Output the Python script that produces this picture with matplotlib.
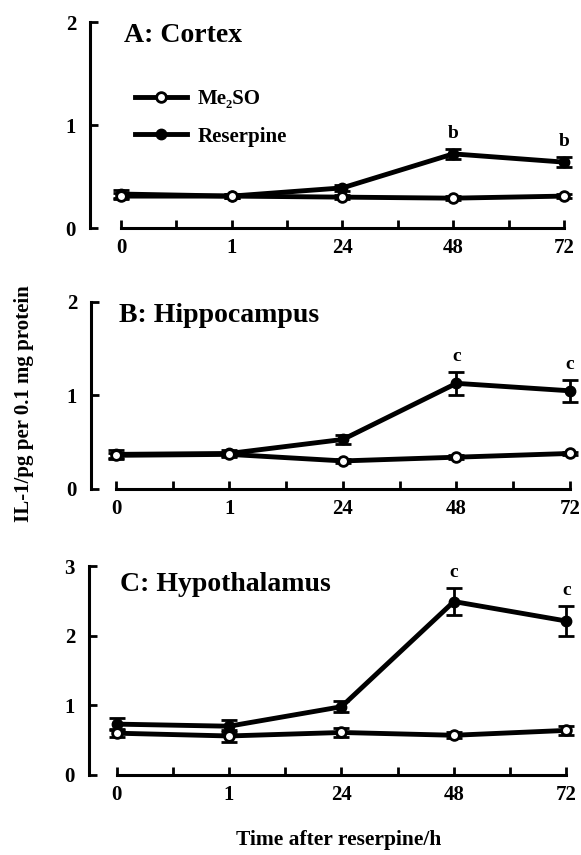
import numpy as np
import matplotlib
matplotlib.use("Agg")
import matplotlib.pyplot as plt

plt.rcParams['font.family'] = ['Liberation Serif', 'DejaVu Serif']
plt.rcParams['font.weight'] = 'bold'

times = ["0", "1", "24", "48", "72"]
x = np.arange(len(times))

# panel A: cortex
cortex_dmso = [0.31, 0.31, 0.30, 0.29, 0.31]
cortex_dmso_err = [0.03, 0.02, 0.02, 0.02, 0.02]
cortex_res = [0.33, 0.31, 0.39, 0.72, 0.64]
cortex_res_err = [0.04, 0.02, 0.03, 0.05, 0.05]
cortex_sig = ["", "", "", "b", "b"]

# panel B: hippocampus
hippo_dmso = [0.36, 0.37, 0.30, 0.34, 0.38]
hippo_dmso_err = [0.03, 0.02, 0.02, 0.02, 0.02]
hippo_res = [0.37, 0.38, 0.53, 1.13, 1.05]
hippo_res_err = [0.05, 0.04, 0.05, 0.125, 0.115]
hippo_sig = ["", "", "", "c", "c"]

# panel C: hypothalamus
hypo_dmso = [0.60, 0.56, 0.61, 0.57, 0.64]
hypo_dmso_err = [0.06, 0.08, 0.07, 0.04, 0.06]
hypo_res = [0.73, 0.70, 0.98, 2.49, 2.21]
hypo_res_err = [0.09, 0.09, 0.08, 0.20, 0.22]
hypo_sig = ["", "", "", "c", "c"]

panels = [
    ("A: Cortex", cortex_dmso, cortex_dmso_err, cortex_res, cortex_res_err, cortex_sig, 2),
    ("B: Hippocampus", hippo_dmso, hippo_dmso_err, hippo_res, hippo_res_err, hippo_sig, 2),
    ("C: Hypothalamus", hypo_dmso, hypo_dmso_err, hypo_res, hypo_res_err, hypo_sig, 3),
]
# axes rectangles (figure fractions) and x-limits
rects = [
    [0.1549, 0.7333, 0.8348, 0.2409],
    [0.1566, 0.4281, 0.8400, 0.2187],
    [0.1532, 0.0936, 0.8410, 0.2444],
]
xlims = [(-0.28, 4.1), (-0.22, 4.08), (-0.245, 4.1)]
title_y = [0.935, 0.93, 0.91]

fig = plt.figure(figsize=(5.81, 8.55), dpi=100)

for i, (title, dm, dme, rs, rse, sig, ymax) in enumerate(panels):
    ax = fig.add_axes(rects[i])
    eb_r = ax.errorbar(x, rs, yerr=rse, color="black", lw=3.5, marker="o", ms=7.5,
                       mfc="black", mec="black", capsize=5.5, elinewidth=2, capthick=2,
                       zorder=3)
    eb_d = ax.errorbar(x, dm, yerr=dme, color="black", lw=3.5, marker="o", ms=7,
                       mfc="white", mec="black", mew=2, capsize=5.5, elinewidth=2,
                       capthick=2, zorder=4)
    # significance letters just above the error bars
    for xi, yi, e, s in zip(x, rs, rse, sig):
        if s:
            ax.annotate(s, (xi, yi + e), xytext=(0, 5), textcoords="offset points",
                        ha="center", va="bottom", fontsize=14, fontweight="bold")
    ax.text(0.03, title_y[i] * ymax, title, ha="left", va="center", fontsize=20,
            fontweight="bold")

    ax.set_xlim(*xlims[i])
    ax.set_ylim(0, ymax)
    ax.set_xticks(x)
    ax.set_xticklabels(times)
    ax.set_xticks(x[:-1] + 0.5, minor=True)
    ax.set_yticks(np.arange(0, ymax + 1))
    for side in ["top", "right"]:
        ax.spines[side].set_visible(False)
    ax.spines["bottom"].set_bounds(0, 4)
    ax.spines["bottom"].set_linewidth(2.2)
    ax.spines["left"].set_linewidth(2.2)
    ax.tick_params(axis="x", which="major", direction="in", length=6, width=2,
                   labelsize=15, pad=7)
    ax.tick_params(axis="x", which="minor", direction="in", length=6, width=2)
    ax.tick_params(axis="y", direction="in", length=6, width=2, labelsize=15, pad=10)
    for lab in ax.get_xticklabels() + ax.get_yticklabels():
        lab.set_fontweight("bold")

    if i == 0:
        ax.legend([eb_d[0], eb_r[0]], ["Me\u2082SO", "Reserpine"], loc="center left",
                  bbox_to_anchor=(0.093, 0.535), frameon=False, handlelength=2.5,
                  labelspacing=0.85, handletextpad=0.5, borderpad=0, borderaxespad=0,
                  prop={"weight": "bold", "size": 15})

fig.text(0.041, 0.5275, "IL-1/pg per 0.1 mg protein", rotation=90, ha="center",
         va="center", fontsize=15, fontweight="bold")
fig.text(0.583, 0.0175, "Time after reserpine/h", ha="center", va="center",
         fontsize=15.5, fontweight="bold")

fig.savefig("out.png", dpi=100)
